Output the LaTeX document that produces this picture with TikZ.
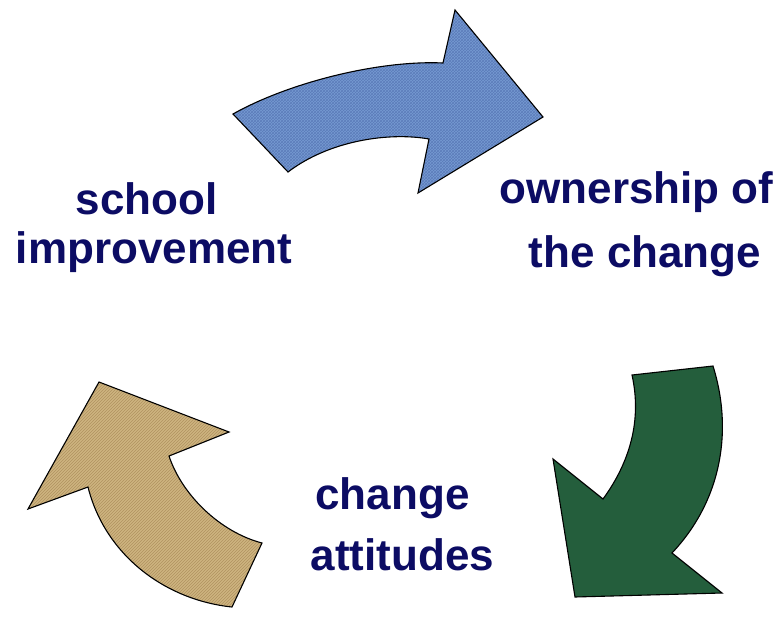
\documentclass[tikz,border=0pt]{standalone}
\usepackage{fontspec}
\setmainfont{Liberation Sans}
\usepackage{tikz}
\usetikzlibrary{patterns}

\definecolor{navytext}{RGB}{12,12,100}
\definecolor{denim}{RGB}{118,154,210}
\definecolor{denimdark}{RGB}{92,124,186}
\definecolor{marble}{RGB}{36,94,60}
\definecolor{burlap}{RGB}{206,180,128}
\definecolor{burlapdark}{RGB}{176,146,96}

\begin{document}
\begin{tikzpicture}[x=1pt, y=-1pt,
    cyclearrow/.style={draw=black, line width=1.1pt, line join=miter},
    cyclelabel/.style={anchor=base, inner sep=0pt, text=navytext,
        font=\fontsize{44}{50}\selectfont\bfseries}]

\useasboundingbox (0,0) rectangle (784,616);

% blue arrow, top
\draw[cyclearrow, preaction={fill=denim}, pattern=crosshatch, pattern color=denimdark]
    (233,114) .. controls (290,82) and (380,60) .. (443,63) -- (455,10) -- (543,117)
    -- (418,193) -- (429,139) .. controls (390,132) and (330,140) .. (288,172) -- cycle;

% green arrow, right
\draw[cyclearrow, fill=marble]
    (632,375) -- (713,366) .. controls (733,430) and (722,500) .. (672,553)
    -- (722,593) -- (575,597) -- (553,459) -- (603,499)
    .. controls (630,462) and (642,420) .. (632,375) -- cycle;

% brown arrow, left
\draw[cyclearrow, preaction={fill=burlap}, pattern=north east lines, pattern color=burlapdark]
    (99,382) -- (229,432) -- (169,456) .. controls (182,495) and (220,532) .. (262,543)
    -- (232,607) .. controls (165,600) and (105,555) .. (88,487) -- (28,509) -- cycle;

\node[cyclelabel] (school) at (146.5,214) {school};
\node[cyclelabel] (improvement) at (154,263) {improvement};

\node[cyclelabel] (ownership) at (636.5,203) {ownership of};
\node[cyclelabel] (thechange) at (645,267) {the change};

\node[cyclelabel] (change) at (392.5,509) {change};
\node[cyclelabel] (attitudes) at (402.5,570) {attitudes};

\end{tikzpicture}
\end{document}
